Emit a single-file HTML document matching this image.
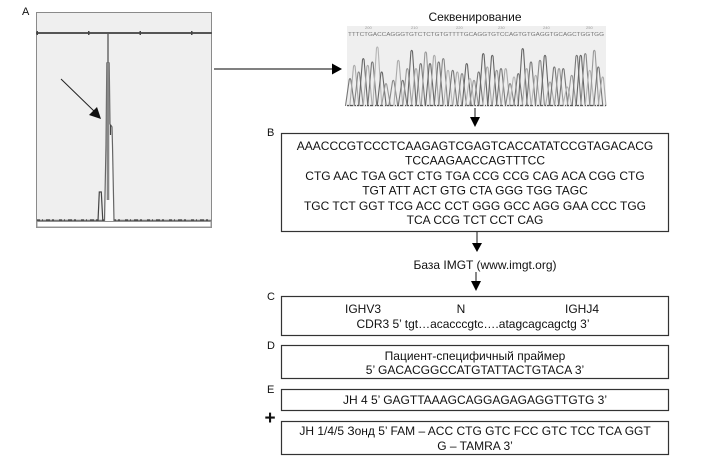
<!DOCTYPE html>
<html><head><meta charset="utf-8"><style>
html,body{margin:0;padding:0;background:#fff;}
svg{display:block;}
text{font-family:"Liberation Sans","Noto Sans CJK SC",sans-serif;fill:#111;}
</style></head><body>
<svg width="709" height="461" viewBox="0 0 709 461" xmlns="http://www.w3.org/2000/svg">
<!-- Panel A -->
<text x="22" y="15" font-size="11">A</text>
<rect x="36.5" y="12.5" width="175" height="215" fill="#efefef" stroke="#8a8a8a" stroke-width="1"/>
<line x1="36" y1="33" x2="212" y2="33" stroke="#555" stroke-width="2"/>
<rect x="36.5" y="31" width="1.5" height="4" fill="#444"/>
<rect x="88" y="31" width="1.5" height="4" fill="#444"/>
<rect x="139.5" y="31" width="1.5" height="4" fill="#444"/>
<rect x="191" y="31" width="1.5" height="4" fill="#444"/>
<rect x="37" y="221.5" width="174" height="5.5" fill="#fff" stroke="#999" stroke-width="1"/>
<line x1="37" y1="220.5" x2="211" y2="220.5" stroke="#777" stroke-width="1.6"/>
<line x1="37" y1="220" x2="211" y2="220" stroke="#333" stroke-width="1.2" stroke-dasharray="3 2 1 3 4 2 2 5"/>
<!-- peak -->
<line x1="108" y1="33" x2="108" y2="64" stroke="#555" stroke-width="1.3"/>
<path d="M104.5 221 L106 145 L106.8 63 L109.2 63 L110 124 L112 127 L112.5 146 L114 221" fill="#fafafa" stroke="#666" stroke-width="1.2"/>
<line x1="108" y1="63" x2="108" y2="200" stroke="#888" stroke-width="2.6"/>
<line x1="110.5" y1="125" x2="110.5" y2="135" stroke="#444" stroke-width="1.2"/>
<path d="M98 221 L99.3 192 L101.3 192 L102.8 221" fill="none" stroke="#444" stroke-width="1.2"/>
<line x1="61" y1="79" x2="95" y2="112" stroke="#222" stroke-width="1"/>
<polygon points="101,119 89,115 97,107" fill="#111"/>

<!-- A -> sequencing arrow -->
<line x1="214" y1="69" x2="333" y2="69" stroke="#000" stroke-width="1"/>
<polygon points="342,69 332,63.5 332,74.5" fill="#000"/>

<!-- Sequencing -->
<text x="475" y="21" font-size="12" text-anchor="middle">Секвенирование</text>
<rect x="347" y="26" width="259" height="81" fill="#efefef"/>
<g font-size="4">
<text x="365" y="29" style="fill:#999">200</text><text x="411" y="29" style="fill:#999">210</text><text x="456" y="29" style="fill:#999">220</text><text x="498" y="29" style="fill:#999">230</text><text x="543" y="29" style="fill:#999">240</text><text x="586" y="29" style="fill:#999">250</text>
</g>
<text x="348" y="36" font-size="5.5" textLength="256" lengthAdjust="spacingAndGlyphs" style="fill:#777">TTTCTGACCAGGGTGTCTCTGTGTTTTGCAGGTGTCCAGTGTGAGGTGCAGCTGGTGG</text>
<g fill="none" stroke-width="1.1">
<path stroke="#777" d="M345.5 106 L349.2 79.8 Q350 77.3 350.8 79.8 L354.5 106"/>
<path stroke="#aaa" d="M349.8 106 L353.5 66.5 Q354.3 64 355.1 66.5 L358.8 106"/>
<path stroke="#888" d="M354.2 106 L357.9 73.2 Q358.7 70.7 359.5 73.2 L363.2 106"/>
<path stroke="#666" d="M358.8 106 L362.5 59.8 Q363.3 57.3 364.1 59.8 L367.8 106"/>
<path stroke="#aaa" d="M363.2 106 L366.9 66.5 Q367.7 64 368.5 66.5 L372.2 106"/>
<path stroke="#777" d="M367.8 106 L371.5 63.2 Q372.3 60.7 373.1 63.2 L376.8 106"/>
<path stroke="#b5b5b5" d="M372.8 106 L376.5 48.2 Q377.3 45.7 378.1 48.2 L381.8 106"/>
<path stroke="#666" d="M377.2 106 L380.9 73.2 Q381.7 70.7 382.5 73.2 L386.2 106"/>
<path stroke="#999" d="M381.5 106 L385.2 84.8 Q386 82.3 386.8 84.8 L390.5 106"/>
<path stroke="#888" d="M388.8 106 L392.5 81.5 Q393.3 79 394.1 81.5 L397.8 106"/>
<path stroke="#aaa" d="M393.8 106 L397.5 61.5 Q398.3 59 399.1 61.5 L402.8 106"/>
<path stroke="#777" d="M398.2 106 L401.9 81.5 Q402.7 79 403.5 81.5 L407.2 106"/>
<path stroke="#999" d="M402.8 106 L406.5 69.8 Q407.3 67.3 408.1 69.8 L411.8 106"/>
<path stroke="#666" d="M407.2 106 L410.9 51.5 Q411.7 49 412.5 51.5 L416.2 106"/>
<path stroke="#aaa" d="M411.5 106 L415.2 69.8 Q416 67.3 416.8 69.8 L420.5 106"/>
<path stroke="#777" d="M416.2 106 L419.9 64.8 Q420.7 62.3 421.5 64.8 L425.2 106"/>
<path stroke="#999" d="M421.2 106 L424.9 53.2 Q425.7 50.7 426.5 53.2 L430.2 106"/>
<path stroke="#666" d="M425.5 106 L429.2 64.8 Q430 62.3 430.8 64.8 L434.5 106"/>
<path stroke="#aaa" d="M429.8 106 L433.5 56.5 Q434.3 54 435.1 56.5 L438.8 106"/>
<path stroke="#777" d="M434.2 106 L437.9 63.2 Q438.7 60.7 439.5 63.2 L443.2 106"/>
<path stroke="#888" d="M438.8 106 L442.5 59.8 Q443.3 57.3 444.1 59.8 L447.8 106"/>
<path stroke="#b5b5b5" d="M443.5 106 L447.2 71.5 Q448 69 448.8 71.5 L452.5 106"/>
<path stroke="#777" d="M448.2 106 L451.9 71.5 Q452.7 69 453.5 71.5 L457.2 106"/>
<path stroke="#aaa" d="M452.8 106 L456.5 73.2 Q457.3 70.7 458.1 73.2 L461.8 106"/>
<path stroke="#888" d="M457.5 106 L461.2 74.8 Q462 72.3 462.8 74.8 L466.5 106"/>
<path stroke="#666" d="M462.2 106 L465.9 64.8 Q466.7 62.3 467.5 64.8 L471.2 106"/>
<path stroke="#b5b5b5" d="M465.5 106 L469.2 79.8 Q470 77.3 470.8 79.8 L474.5 106"/>
<path stroke="#999" d="M469.5 106 L473.2 81.5 Q474 79 474.8 81.5 L478.5 106"/>
<path stroke="#777" d="M474.2 106 L477.9 73.2 Q478.7 70.7 479.5 73.2 L483.2 106"/>
<path stroke="#666" d="M478.8 106 L482.5 54.8 Q483.3 52.3 484.1 54.8 L487.8 106"/>
<path stroke="#aaa" d="M482.8 106 L486.5 68.2 Q487.3 65.7 488.1 68.2 L491.8 106"/>
<path stroke="#666" d="M487.8 106 L491.5 56.5 Q492.3 54 493.1 56.5 L496.8 106"/>
<path stroke="#999" d="M492.2 106 L495.9 71.5 Q496.7 69 497.5 71.5 L501.2 106"/>
<path stroke="#777" d="M496.5 106 L500.2 69.8 Q501 67.3 501.8 69.8 L505.5 106"/>
<path stroke="#aaa" d="M501.2 106 L504.9 69.8 Q505.7 67.3 506.5 69.8 L510.2 106"/>
<path stroke="#888" d="M505.5 106 L509.2 84.8 Q510 82.3 510.8 84.8 L514.5 106"/>
<path stroke="#b5b5b5" d="M509.5 106 L513.2 78.2 Q514 75.7 514.8 78.2 L518.5 106"/>
<path stroke="#777" d="M513.8 106 L517.5 74.8 Q518.3 72.3 519.1 74.8 L522.8 106"/>
<path stroke="#666" d="M518.2 106 L521.9 49.8 Q522.7 47.3 523.5 49.8 L527.2 106"/>
<path stroke="#aaa" d="M522.2 106 L525.9 69.8 Q526.7 67.3 527.5 69.8 L531.2 106"/>
<path stroke="#777" d="M526.5 106 L530.2 63.2 Q531 60.7 531.8 63.2 L535.5 106"/>
<path stroke="#b5b5b5" d="M531.2 106 L534.9 76.5 Q535.7 74 536.5 76.5 L540.2 106"/>
<path stroke="#888" d="M535.5 106 L539.2 61.5 Q540 59 540.8 61.5 L544.5 106"/>
<path stroke="#666" d="M540.5 106 L544.2 56.5 Q545 54 545.8 56.5 L549.5 106"/>
<path stroke="#aaa" d="M545.5 106 L549.2 83.2 Q550 80.7 550.8 83.2 L554.5 106"/>
<path stroke="#777" d="M549.8 106 L553.5 68.2 Q554.3 65.7 555.1 68.2 L558.8 106"/>
<path stroke="#999" d="M554.5 106 L558.2 69.8 Q559 67.3 559.8 69.8 L563.5 106"/>
<path stroke="#777" d="M558.8 106 L562.5 69.8 Q563.3 67.3 564.1 69.8 L567.8 106"/>
<path stroke="#b5b5b5" d="M562.8 106 L566.5 88.2 Q567.3 85.7 568.1 88.2 L571.8 106"/>
<path stroke="#999" d="M567.2 106 L570.9 76.5 Q571.7 74 572.5 76.5 L576.2 106"/>
<path stroke="#777" d="M572.2 106 L575.9 56.5 Q576.7 54 577.5 56.5 L581.2 106"/>
<path stroke="#666" d="M576.2 106 L579.9 56.5 Q580.7 54 581.5 56.5 L585.2 106"/>
<path stroke="#888" d="M580.8 106 L584.5 54.8 Q585.3 52.3 586.1 54.8 L589.8 106"/>
<path stroke="#b5b5b5" d="M585.2 106 L588.9 71.5 Q589.7 69 590.5 71.5 L594.2 106"/>
<path stroke="#999" d="M589.8 106 L593.5 51.5 Q594.3 49 595.1 51.5 L598.8 106"/>
<path stroke="#777" d="M593.8 106 L597.5 68.2 Q598.3 65.7 599.1 68.2 L602.8 106"/>
<path stroke="#aaa" d="M598.2 106 L601.9 78.2 Q602.7 75.7 603.5 78.2 L606 106"/>
</g>
<line x1="347" y1="105.5" x2="606" y2="105.5" stroke="#555" stroke-width="1.3" stroke-dasharray="2 1 3 2 1 1"/>

<!-- arrow 1 -->
<line x1="475" y1="108" x2="475" y2="118" stroke="#111" stroke-width="1"/>
<polygon points="470,117 480,117 475,127" fill="#000"/>

<!-- Box B -->
<text x="267" y="136" font-size="11">B</text>
<rect x="281.5" y="133.5" width="387" height="98" fill="#fff" stroke="#333" stroke-width="1.2"/>
<g font-size="12" text-anchor="middle">
<text x="475" y="150">AAACCCGTCCCTCAAGAGTCGAGTCACCATATCCGTAGACACG</text>
<text x="475" y="164.5">TCCAAGAACCAGTTTCC</text>
<text x="475" y="180">CTG AAC TGA GCT CTG TGA CCG CCG CAG ACA CGG CTG</text>
<text x="475" y="194.5">TGT ATT ACT GTG CTA GGG TGG TAGC</text>
<text x="475" y="210">TGC TCT GGT TCG ACC CCT GGG GCC AGG GAA CCC TGG</text>
<text x="475" y="224">TCA CCG TCT CCT CAG</text>
</g>

<!-- arrow 2 -->
<line x1="477" y1="232" x2="477" y2="244" stroke="#111" stroke-width="1"/>
<polygon points="472,243 482,243 477,252" fill="#000"/>
<text x="485" y="269" font-size="12" text-anchor="middle">База IMGT (www.imgt.org)</text>
<!-- arrow 3 -->
<line x1="476" y1="272" x2="476" y2="282" stroke="#111" stroke-width="1"/>
<polygon points="471,281 481,281 476,291" fill="#000"/>

<!-- Box C -->
<text x="267" y="300" font-size="11">C</text>
<rect x="281.5" y="296.5" width="387" height="39" fill="#fff" stroke="#333" stroke-width="1.2"/>
<g font-size="12" text-anchor="middle">
<text x="363" y="313">IGHV3</text>
<text x="461" y="313">N</text>
<text x="582" y="313">IGHJ4</text>
<text x="473" y="328">CDR3  5’ tgt…acacccgtc….atagcagcagctg 3’</text>
</g>

<!-- Box D -->
<text x="267" y="349" font-size="11">D</text>
<rect x="281.5" y="345.5" width="387" height="33" fill="#fff" stroke="#333" stroke-width="1.2"/>
<g font-size="12" text-anchor="middle">
<text x="475" y="360">Пациент-специфичный праймер</text>
<text x="475" y="374">5’ GACACGGCCATGTATTACTGTACA 3’</text>
</g>

<!-- Box E -->
<text x="267" y="393" font-size="11">E</text>
<rect x="281.5" y="389.5" width="387" height="21" fill="#fff" stroke="#333" stroke-width="1.2"/>
<text x="475" y="404" font-size="12" text-anchor="middle">JH 4 5’ GAGTTAAAGCAGGAGAGAGGTTGTG 3’</text>

<!-- plus -->
<text x="270" y="424" font-size="19" font-weight="bold" text-anchor="middle">+</text>

<!-- Box F -->
<rect x="281.5" y="421.5" width="387" height="33" fill="#fff" stroke="#333" stroke-width="1.2"/>
<g font-size="12" text-anchor="middle">
<text x="475" y="435">JH 1/4/5 Зонд 5’ FAM – ACC CTG GTC FCC GTC TCC TCA GGT</text>
<text x="475" y="450">G – TAMRA 3’</text>
</g>
</svg>
</body></html>
